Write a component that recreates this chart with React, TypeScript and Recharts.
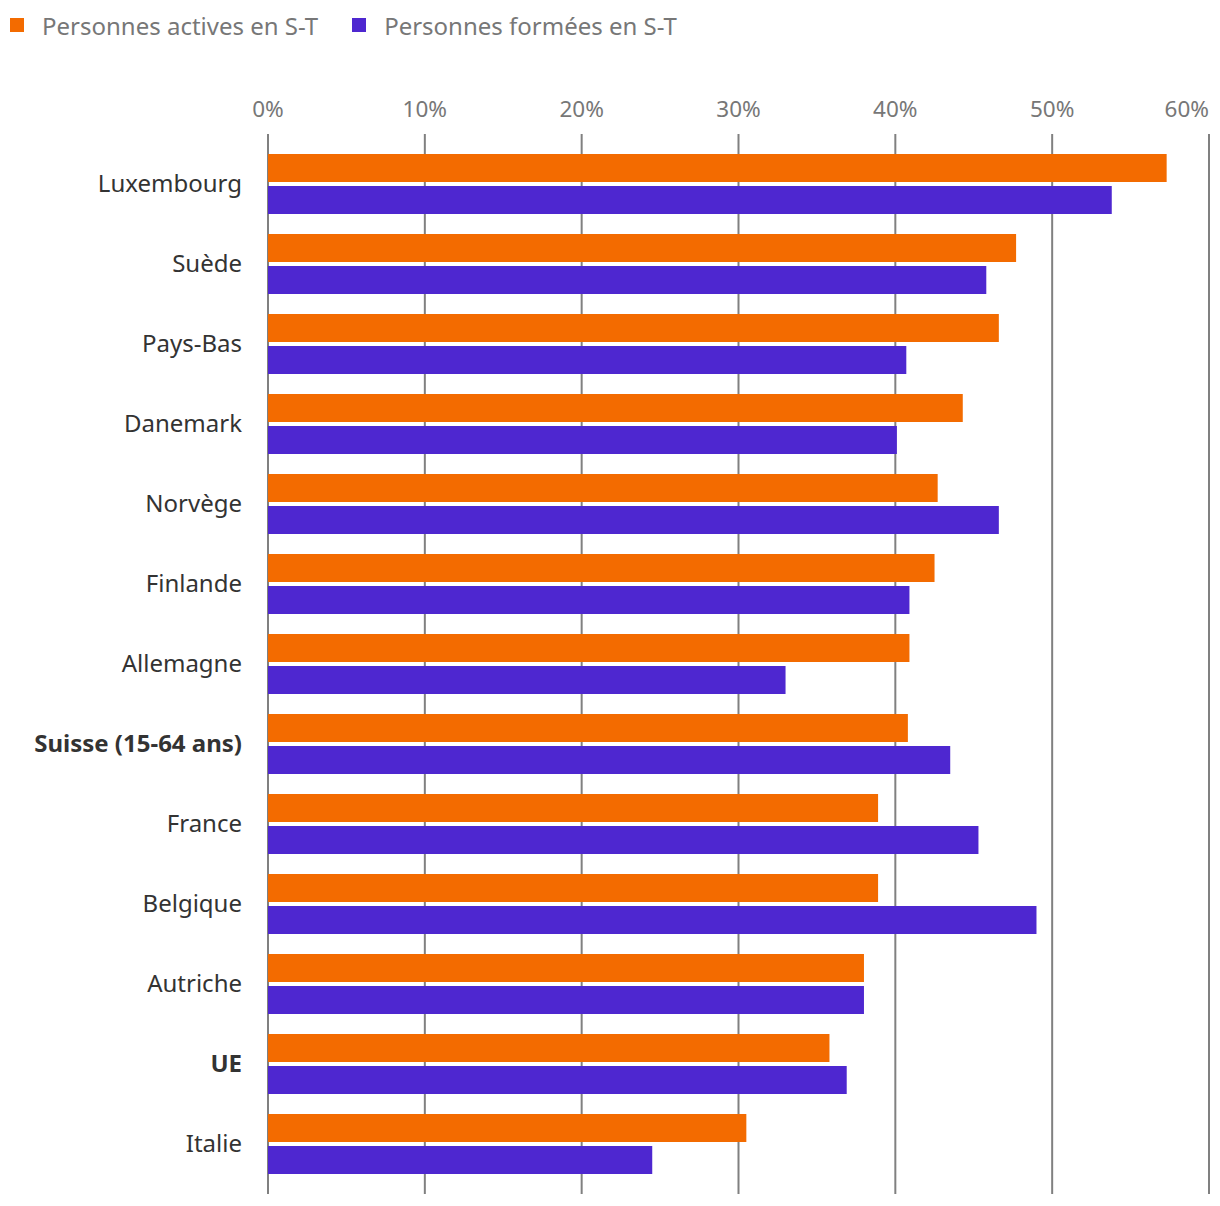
import { Bar, BarChart, CartesianGrid, XAxis, YAxis } from "recharts";

const PAYS = [
  "Luxembourg",
  "Suède",
  "Pays-Bas",
  "Danemark",
  "Norvège",
  "Finlande",
  "Allemagne",
  "Suisse (15-64 ans)",
  "France",
  "Belgique",
  "Autriche",
  "UE",
  "Italie",
];

const ACTIVES = [57.3, 47.7, 46.6, 44.3, 42.7, 42.5, 40.9, 40.8, 38.9, 38.9, 38.0, 35.8, 30.5];
const FORMEES = [53.8, 45.8, 40.7, 40.1, 46.6, 40.9, 33.0, 43.5, 45.3, 49.0, 38.0, 36.9, 24.5];

const TICKS = [0, 10, 20, 30, 40, 50, 60];
const BOLD = ["Suisse (15-64 ans)", "UE"];

const ORANGE = "#f36b00";
const VIOLET = "#4e27d0";
const FONT = "'Noto Sans', sans-serif";

const data = PAYS.map((pays, i) => ({
  pays,
  actives: ACTIVES[i],
  formees: FORMEES[i],
}));

function PaysTick({ x, y, payload }: any) {
  const bold = BOLD.includes(payload.value);
  return (
    <text
      x={x}
      y={y}
      dy="0.35em"
      textAnchor="end"
      fill="#333"
      fontSize={24}
      fontWeight={bold ? 700 : 400}
      fontFamily={FONT}
    >
      {payload.value}
    </text>
  );
}

// the last label is pulled back inside the plot, like the original
function PctTick({ x, y, payload }: any) {
  const last = payload.value === TICKS[TICKS.length - 1];
  return (
    <text
      x={x}
      y={y}
      textAnchor={last ? "end" : "middle"}
      fill="#777"
      fontSize={22.5}
      fontFamily={FONT}
    >
      {`${payload.value}%`}
    </text>
  );
}

function LegendItem({ color, label }: { color: string; label: string }) {
  return (
    <div style={{ display: "flex", alignItems: "center", marginRight: 34 }}>
      <div style={{ width: 14, height: 14, background: color, marginRight: 18 }} />
      <span style={{ color: "#777", fontSize: 24 }}>{label}</span>
    </div>
  );
}

export default function App() {
  return (
    <div
      style={{
        position: "absolute",
        left: 0,
        top: 0,
        width: 1220,
        height: 1206,
        background: "#fff",
        fontFamily: FONT,
      }}
    >
      <div style={{ position: "absolute", left: 10, top: 9, display: "flex", height: 32 }}>
        <LegendItem color={ORANGE} label="Personnes actives en S-T" />
        <LegendItem color={VIOLET} label="Personnes formées en S-T" />
      </div>
      <BarChart
        width={1220}
        height={1206}
        data={data}
        layout="vertical"
        margin={{ top: 94, right: 11, bottom: 12, left: 0 }}
        barSize={28}
        barGap={4}
      >
        <CartesianGrid horizontal={false} stroke="#808080" strokeWidth={2} />
        <XAxis
          type="number"
          orientation="top"
          domain={[0, 60]}
          ticks={TICKS}
          axisLine={false}
          tickLine={false}
          tickSize={6}
          tickMargin={11}
          height={40}
          interval={0}
          tick={<PctTick />}
        />
        <YAxis
          type="category"
          dataKey="pays"
          width={268}
          axisLine={false}
          tickLine={false}
          tickSize={6}
          tickMargin={20}
          padding={{ top: 10, bottom: 10 }}
          interval={0}
          tick={<PaysTick />}
        />
        <Bar dataKey="actives" fill={ORANGE} isAnimationActive={false} />
        <Bar dataKey="formees" fill={VIOLET} isAnimationActive={false} />
      </BarChart>
    </div>
  );
}
